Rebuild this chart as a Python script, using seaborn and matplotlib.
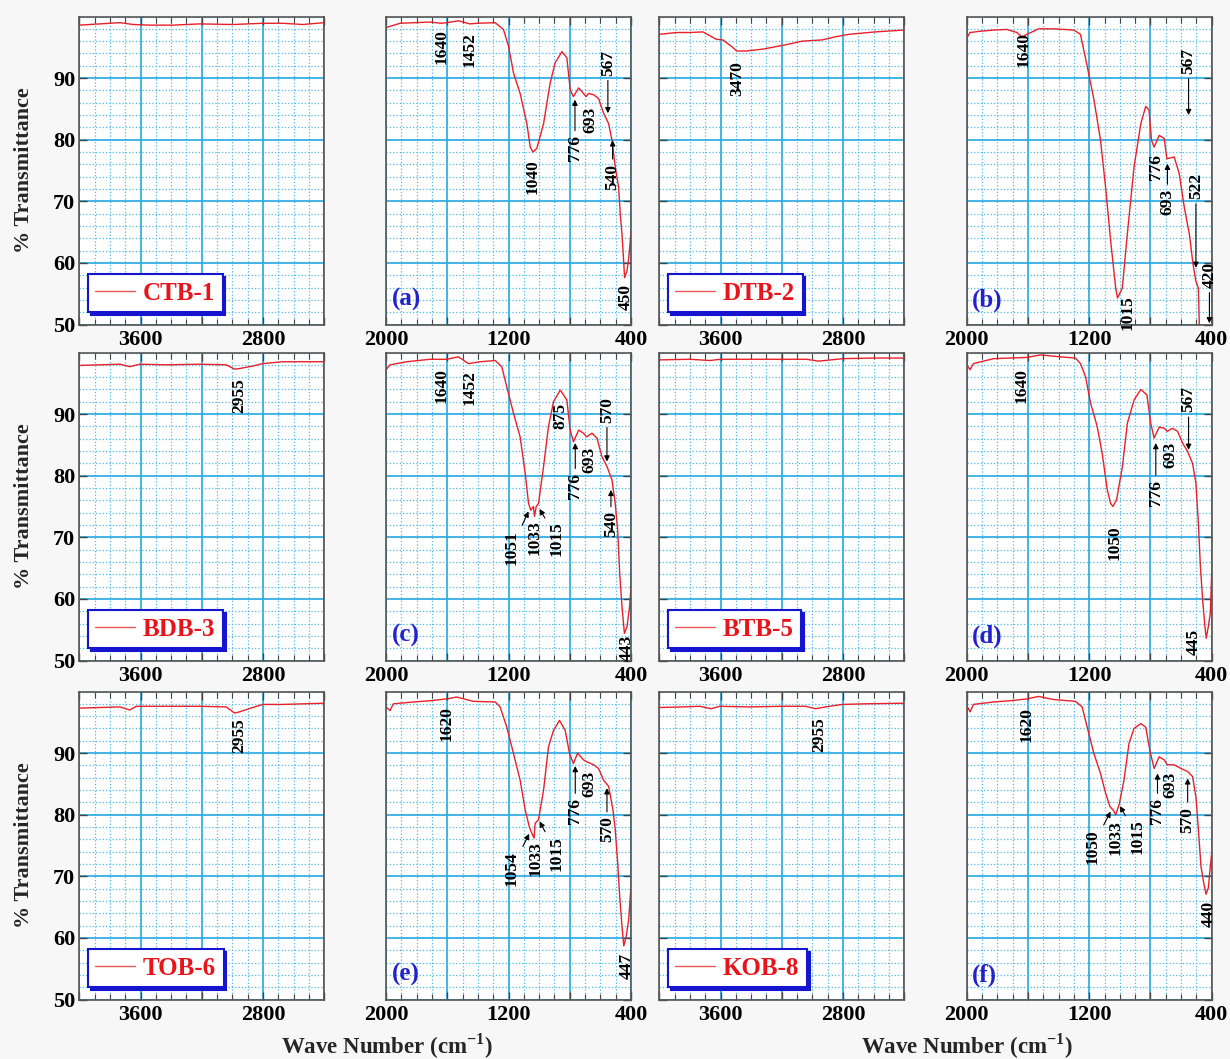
import matplotlib
matplotlib.use("Agg")
import matplotlib.pyplot as plt
from matplotlib.ticker import MultipleLocator, FuncFormatter
import seaborn as sns
import pandas as pd

# ---- spectra: wave number (cm-1) and % transmittance ----
wn_ctb1 = [4000, 3865, 3735, 3648, 3540, 3388, 3214, 2997, 2802, 2671, 2541, 2400]
t_ctb1 = [98.6, 98.8, 99.0, 98.7, 98.6, 98.6, 98.8, 98.7, 98.9, 98.9, 98.7, 99.0]

wn_a = [2000, 1908, 1712, 1640, 1603, 1527, 1452, 1407, 1287, 1233, 1200, 1167, 1124, 1080,
        1058, 1040, 1015, 971, 928, 895, 851, 819, 797, 776, 742, 710, 693, 677, 644, 612,
        579, 546, 524, 503, 481, 470, 459, 448, 442, 426, 415, 405, 400]
t_a = [98.2, 98.9, 99.1, 98.9, 99.0, 99.3, 98.8, 98.9, 99.0, 97.9, 95.2, 90.8, 87.5, 82.6,
       78.8, 78.0, 78.6, 82.6, 89.2, 92.5, 94.3, 93.3, 88.1, 87.0, 88.4, 87.5, 87.0, 87.5, 87.3, 86.7,
       84.3, 82.6, 79.9, 75.6, 72.3, 67.9, 64.7, 60.3, 57.6, 58.7, 60.8, 63.5, 65.2]

wn_dtb2 = [4000, 3888, 3801, 3715, 3671, 3628, 3585, 3531, 3494, 3434, 3325, 3196, 3066, 2936,
           2850, 2763, 2590, 2400]
t_dtb2 = [97.1, 97.4, 97.4, 97.5, 96.9, 96.3, 96.2, 95.2, 94.4, 94.4, 94.7, 95.3, 96.0, 96.2,
          96.7, 97.1, 97.5, 97.8]

wn_b = [2000, 1978, 1913, 1825, 1738, 1672, 1639, 1607, 1530, 1432, 1300, 1257, 1213, 1169,
        1126, 1093, 1060, 1027, 1015, 984, 951, 907, 863, 831, 809, 793, 776, 743, 710, 693,
        645, 612, 579, 546, 522, 503, 487, 481, 476]
t_b = [96.5, 97.4, 97.6, 97.8, 97.9, 97.4, 96.7, 97.1, 98.0, 98.0, 97.8, 97.1, 91.9, 86.5,
       79.9, 72.3, 63.6, 55.9, 54.3, 55.9, 64.7, 75.6, 82.6, 85.4, 84.8, 79.9, 78.8, 80.7, 80.2, 76.9,
       77.2, 74.5, 69.0, 64.7, 59.8, 57.0, 55.9, 50.0, 48.0]

wn_bdb3 = [4000, 3865, 3735, 3670, 3605, 3431, 3214, 3040, 2986, 2953, 2867, 2802, 2671, 2400]
t_bdb3 = [97.9, 98.0, 98.1, 97.7, 98.1, 98.0, 98.1, 98.0, 97.3, 97.4, 97.8, 98.2, 98.5, 98.5]

wn_c = [2000, 1974, 1865, 1712, 1603, 1527, 1462, 1385, 1287, 1244, 1211, 1167, 1124, 1091,
        1069, 1054, 1037, 1030, 1019, 1004, 971, 939, 906, 862, 819, 797, 776, 742, 710, 690,
        655, 622, 590, 557, 524, 503, 487, 474, 459, 443, 426, 409, 400]
t_c = [97.2, 98.0, 98.5, 98.9, 98.9, 99.3, 98.2, 98.5, 98.7, 97.7, 94.4, 90.1, 86.3, 80.4,
       75.5, 74.4, 75.0, 73.4, 75.0, 75.5, 81.5, 88.0, 92.0, 93.9, 92.3, 87.4, 85.5, 87.4, 86.9, 86.3,
       86.9, 86.1, 83.1, 81.5, 79.3, 75.5, 71.2, 64.2, 58.8, 54.4, 55.5, 58.8, 62.0]

wn_btb5 = [4000, 3800, 3670, 3600, 3400, 3200, 3040, 2960, 2880, 2800, 2600, 2400]
t_btb5 = [98.8, 98.9, 98.7, 98.9, 98.9, 98.9, 98.9, 98.6, 98.8, 99.0, 99.1, 99.1]

wn_d = [2000, 1978, 1956, 1825, 1607, 1519, 1388, 1290, 1257, 1224, 1191, 1148, 1115, 1082,
        1060, 1045, 1021, 983, 951, 907, 863, 823, 798, 776, 743, 710, 690, 656, 623, 590,
        557, 525, 503, 487, 474, 459, 444, 436, 422, 409, 400]
t_d = [98.0, 97.2, 98.2, 99.0, 99.2, 99.6, 99.3, 99.1, 98.2, 96.1, 91.8, 88.0, 83.6, 77.7,
       75.5, 75.0, 76.1, 81.5, 88.5, 92.3, 94.0, 93.1, 88.5, 86.1, 87.9, 87.7, 87.2, 87.7, 87.2, 85.3,
       83.9, 82.0, 78.8, 72.3, 65.3, 59.8, 55.5, 53.6, 55.5, 57.7, 64.2]

wn_tob6 = [4000, 3865, 3735, 3670, 3627, 3431, 3214, 3040, 2986, 2953, 2867, 2802, 2671, 2400]
t_tob6 = [97.3, 97.4, 97.5, 97.0, 97.6, 97.6, 97.6, 97.5, 96.5, 96.7, 97.4, 97.9, 97.9, 98.1]

wn_e = [2000, 1974, 1952, 1821, 1712, 1603, 1538, 1429, 1287, 1255, 1211, 1167, 1124, 1091,
        1065, 1048, 1033, 1026, 1004, 971, 939, 906, 867, 830, 801, 776, 749, 710, 690, 644,
        612, 579, 546, 518, 503, 487, 474, 459, 447, 431, 415, 400]
t_e = [97.5, 96.9, 98.0, 98.3, 98.5, 98.8, 99.1, 98.4, 98.3, 97.5, 94.2, 89.9, 85.6, 80.8,
       78.1, 77.0, 76.2, 78.6, 79.2, 84.0, 91.0, 93.7, 95.3, 93.7, 89.9, 88.3, 90.0, 88.9, 88.6, 88.1,
       87.5, 85.6, 84.6, 80.8, 77.6, 72.2, 66.8, 61.9, 58.7, 60.3, 63.0, 68.4]

wn_kob8 = [4000, 3844, 3736, 3661, 3606, 3412, 3196, 3045, 2979, 2915, 2806, 2655, 2400]
t_kob8 = [97.4, 97.5, 97.6, 97.2, 97.6, 97.5, 97.6, 97.6, 97.2, 97.5, 97.9, 98.0, 98.1]

wn_f = [2000, 1978, 1956, 1825, 1716, 1607, 1530, 1432, 1290, 1246, 1213, 1169, 1126, 1093,
        1064, 1042, 1027, 1005, 973, 940, 907, 863, 831, 802, 776, 743, 710, 690, 645, 601,
        557, 525, 503, 487, 470, 452, 437, 422, 409, 400]
t_f = [97.7, 96.7, 97.9, 98.3, 98.5, 98.8, 99.2, 98.7, 98.4, 97.5, 94.2, 89.9, 86.7, 83.5,
       81.3, 80.7, 80.0, 81.6, 85.6, 91.6, 94.0, 94.8, 94.2, 90.2, 87.5, 89.4, 88.9, 88.1, 88.1, 87.5,
       87.0, 86.2, 82.9, 77.6, 71.6, 68.9, 67.1, 68.1, 71.6, 73.8]

# peak labels: (text, x, y of text top) or (text, x, y, arrow tip x, arrow tip y)
peaks_dtb2 = [("3470", 3494, 92.7)]
peaks_bdb3 = [("2955", 2958, 95.8)]
peaks_tob6 = [("2955", 2958, 95.6)]
peaks_kob8 = [("2955", 2958, 95.9)]
peaks_a = [("1640", 1640, 97.9), ("1452", 1452, 97.4), ("1040", 1040, 76.9),
           ("776", 766, 80.7, 766, 86.5), ("693", 668, 85.4), ("567", 551, 94.6, 551, 84.3),
           ("540", 520, 76.1, 520, 79.9), ("450", 437, 56.5)]
peaks_b = [("1640", 1628, 97.4), ("1015", 951, 54.8), ("567", 551, 94.9, 551, 84.0),
           ("776", 765, 77.7), ("693", 689, 72.0, 689, 76.1), ("522", 503, 74.6, 503, 59.2),
           ("420", 415, 60.2, 415, 50.2)]
peaks_c = [("1640", 1636, 97.4), ("1452", 1451, 97.2), ("875", 862, 91.8),
           ("776", 764, 80.4, 764, 85.3), ("693", 670, 84.7), ("570", 557, 92.8, 557, 82.3),
           ("540", 531, 74.2, 531, 77.7), ("1051", 1178, 71.2, 1069, 74.2), ("1033", 1032, 72.8),
           ("1015", 884, 72.6, 997, 74.6), ("443", 431, 54.2)]
peaks_d = [("1640", 1639, 97.4), ("1050", 1034, 72.0), ("776", 765, 79.3, 765, 85.3),
           ("693", 671, 85.5), ("567", 551, 94.5, 551, 84.2), ("445", 514, 55.2)]
peaks_e = [("1620", 1603, 97.7), ("1054", 1178, 74.1, 1065, 76.9), ("1033", 1026, 75.7),
           ("1015", 884, 76.5, 997, 78.9), ("776", 764, 82.7, 764, 87.9), ("693", 670, 87.2),
           ("570", 557, 79.7, 557, 84.3), ("447", 431, 57.6)]
peaks_f = [("1620", 1607, 97.5), ("1050", 1180, 77.6, 1060, 80.5), ("1033", 1027, 79.2),
           ("1015", 885, 79.2, 999, 81.4), ("776", 754, 82.7, 754, 86.7), ("693", 671, 87.0),
           ("570", 557, 81.3, 557, 85.9), ("440", 422, 66.0)]

rows = [
    (("CTB-1", wn_ctb1, t_ctb1, []), ("(a)", wn_a, t_a, peaks_a),
     ("DTB-2", wn_dtb2, t_dtb2, peaks_dtb2), ("(b)", wn_b, t_b, peaks_b)),
    (("BDB-3", wn_bdb3, t_bdb3, peaks_bdb3), ("(c)", wn_c, t_c, peaks_c),
     ("BTB-5", wn_btb5, t_btb5, []), ("(d)", wn_d, t_d, peaks_d)),
    (("TOB-6", wn_tob6, t_tob6, peaks_tob6), ("(e)", wn_e, t_e, peaks_e),
     ("KOB-8", wn_kob8, t_kob8, peaks_kob8), ("(f)", wn_f, t_f, peaks_f)),
]

sns.set_theme(style="white")
plt.rcParams["font.family"] = ["Liberation Serif", "DejaVu Serif"]
plt.rcParams["mathtext.fontset"] = "custom"
plt.rcParams["mathtext.rm"] = "Liberation Serif:bold"
plt.rcParams["mathtext.bf"] = "Liberation Serif:bold"

RED = "#e8202a"
BLUE = "#1515d0"
GRID = "#22a8e2"
GRID_MINOR = "#4cbbea"
W, H = 1230.0, 1059.0
col_left = [79.3, 386.0, 659.3, 966.7]
row_top = [16.5, 352.5, 691.5]
aw, ah = 245.0, 308.0

fig = plt.figure(figsize=(12.3, 10.59), dpi=100, facecolor="#f7f7f7")


def add_peaks(ax, peaks):
    for p in peaks:
        txt, x, y = p[:3]
        kw = dict(rotation=90, ha="center", va="top", fontsize=12.5,
                  fontweight="bold", color="black", annotation_clip=False)
        if len(p) == 5:
            ax.annotate(txt, xy=(p[3], p[4]), xytext=(x, y),
                        arrowprops=dict(arrowstyle="-|>", color="black", lw=0.8,
                                        mutation_scale=8, shrinkA=1, shrinkB=0), **kw)
        else:
            ax.annotate(txt, xy=(x, y), **kw)


def style_axes(ax, left_side, show_ylabels):
    ax.set_facecolor("white")
    ax.set_ylim(50, 100)
    ax.set_yticks([50, 60, 70, 80, 90])
    ax.yaxis.set_minor_locator(MultipleLocator(2))
    ax.xaxis.set_minor_locator(MultipleLocator(100))
    ax.grid(which="major", color=GRID, lw=1.2, ls="-")
    ax.grid(which="minor", color=GRID_MINOR, lw=0.9, ls=":")
    ax.set_axisbelow(True)
    for s in ax.spines.values():
        s.set_color("#555555")
        s.set_linewidth(1.2)
    ax.tick_params(which="both", direction="in", colors="#444444", top=True, bottom=True,
                   left=left_side, right=not left_side, labelleft=show_ylabels,
                   labelright=False)
    ax.tick_params(which="major", length=6, width=1.0, pad=4, labelsize=16,
                   labelcolor="black")
    ax.tick_params(axis="y", which="major", pad=3)
    ax.tick_params(axis="y", which="minor", length=0)
    ax.tick_params(axis="x", which="minor", length=4, width=0.8)
    for lab in ax.get_xticklabels() + ax.get_yticklabels():
        lab.set_fontweight("bold")
    ax.set_xlabel("")
    ax.set_ylabel("")


for r, panels in enumerate(rows):
    for c, (name, wn, tr, peaks) in enumerate(panels):
        left = col_left[c] / W
        bottom = 1 - (row_top[r] + ah) / H
        ax = fig.add_axes([left, bottom, aw / W, ah / H])
        df = pd.DataFrame({"wn": wn, "T": tr})
        wide = c % 2 == 0
        if wide:
            sns.lineplot(data=df, x="wn", y="T", ax=ax, color=RED, lw=1.0,
                         estimator=None, label=name)
            ax.set_xlim(4000, 2400)
            ax.xaxis.set_major_locator(MultipleLocator(400))
            ax.xaxis.set_major_formatter(FuncFormatter(
                lambda v, p: f"{v:.0f}" if round(v) in (3600, 2800) else ""))
        else:
            sns.lineplot(data=df, x="wn", y="T", ax=ax, color=RED, lw=1.0,
                         estimator=None, legend=False)
            ax.set_xlim(2000, 400)
            ax.xaxis.set_major_locator(MultipleLocator(400))
            ax.xaxis.set_major_formatter(FuncFormatter(
                lambda v, p: f"{v:.0f}" if round(v) in (2000, 1200, 400) else ""))
        style_axes(ax, left_side=wide, show_ylabels=(c == 0))
        add_peaks(ax, peaks)
        if wide:
            leg = ax.legend(loc="lower left", bbox_to_anchor=(0.035, 0.04),
                            borderaxespad=0, frameon=True, fancybox=False,
                            edgecolor=BLUE, framealpha=1,
                            shadow={"color": BLUE, "alpha": 1},
                            prop=dict(family="Liberation Serif", weight="bold", size=18),
                            labelcolor="#e8141c", handlelength=1.6, handletextpad=0.3,
                            borderpad=0.3)
            leg.get_frame().set_linewidth(1.5)
            leg.get_lines()[0].set_color("#e85858")
        else:
            ax.text(0.022, 0.08, name, transform=ax.transAxes, color="#2222cc",
                    fontsize=18, fontweight="bold", ha="left", va="center")

    fig.text(24 / W, 1 - (row_top[r] + ah / 2) / H, "% Transmittance", rotation=90,
             ha="center", va="center", fontsize=16, fontweight="bold")

for xc in (387, 967):
    fig.text(xc / W, 1 - 1046 / H, r"Wave Number (cm$^{-1}$)", ha="center", va="center",
             fontsize=16.5, fontweight="bold")

fig.savefig("out.png", dpi=100, facecolor=fig.get_facecolor())
